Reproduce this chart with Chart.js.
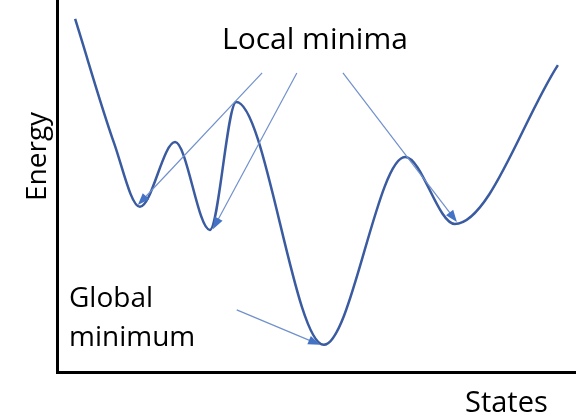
<!DOCTYPE html>
<html>
<head>
<meta charset="utf-8">
<script src="https://cdn.jsdelivr.net/npm/chart.js@4"></script>
<style>
  html, body { margin: 0; padding: 0; background: #fff; }
  #wrap { width: 579px; height: 417px; position: relative; }
</style>
</head>
<body>
<div id="wrap"><canvas id="energyChart"></canvas></div>
<script>
// energy landscape (states 0-100, energy 0-100)
const states = [3.5, 11.0, 16.0, 22.8, 29.5, 34.6, 51.5, 67.2, 76.8, 96.7];
const energy = [94.9, 61.6, 44.4, 61.8, 38.2, 72.6, 7.3, 57.8, 39.8, 82.5];

// arrows: [fromState, fromEnergy, toState, toEnergy]
const localArrows = [
    [39.6, 80.4, 15.6, 44.9],
    [46.3, 80.4, 30.1, 38.4],
    [55.2, 80.4, 77.2, 40.3]
];
const globalArrow = [34.7, 16.7, 50.8, 7.3];

const labelLocal = 'Local minima';
const labelGlobal = ['Global', 'minimum'];
const xTitle = 'States';
const yTitle = 'Energy';

const FONT = '"Open Sans", sans-serif';

const overlay = {
    id: 'overlay',
    afterDatasetsDraw(chart) {
        const ctx = chart.ctx;
        const xs = chart.scales.x, ys = chart.scales.y;
        ctx.save();
        [...localArrows, globalArrow].forEach(a => {
            const x1 = xs.getPixelForValue(a[0]), y1 = ys.getPixelForValue(a[1]);
            const x2 = xs.getPixelForValue(a[2]), y2 = ys.getPixelForValue(a[3]);
            const ang = Math.atan2(y2 - y1, x2 - x1);
            const hl = 12, hw = 4.5;
            ctx.strokeStyle = '#7090cc';
            ctx.lineWidth = 1.2;
            ctx.beginPath();
            ctx.moveTo(x1, y1);
            ctx.lineTo(x2 - Math.cos(ang) * hl * 0.8, y2 - Math.sin(ang) * hl * 0.8);
            ctx.stroke();
            ctx.fillStyle = '#4472c4';
            ctx.beginPath();
            ctx.moveTo(x2, y2);
            ctx.lineTo(x2 - Math.cos(ang) * hl - Math.sin(ang) * hw, y2 - Math.sin(ang) * hl + Math.cos(ang) * hw);
            ctx.lineTo(x2 - Math.cos(ang) * hl + Math.sin(ang) * hw, y2 - Math.sin(ang) * hl - Math.cos(ang) * hw);
            ctx.closePath();
            ctx.fill();
        });

        ctx.fillStyle = '#000';
        ctx.textBaseline = 'alphabetic';
        ctx.textAlign = 'left';
        ctx.font = '30px ' + FONT;
        ctx.fillText(labelLocal, 222, 49);
        ctx.font = '28px ' + FONT;
        ctx.fillText(labelGlobal[0], 69, 307);
        ctx.fillText(labelGlobal[1], 69, 346);
        ctx.font = '29px ' + FONT;
        ctx.fillText(xTitle, 465, 412);

        ctx.font = '28px ' + FONT;
        ctx.translate(46, 201);
        ctx.rotate(-Math.PI / 2);
        ctx.fillText(yTitle, 0, 0);
        ctx.restore();
    }
};

new Chart(document.getElementById('energyChart'), {
    type: 'line',
    data: {
        datasets: [{
            label: 'Energy',
            data: states.map((s, i) => ({ x: s, y: energy[i] })),
            borderColor: '#3a5ba0',
            borderWidth: 2.5,
            pointRadius: 0,
            cubicInterpolationMode: 'monotone',
            fill: false
        }]
    },
    options: {
        responsive: true,
        maintainAspectRatio: false,
        animation: false,
        layout: { padding: { left: 57, right: 4, top: 0, bottom: 45 } },
        plugins: { legend: { display: false }, tooltip: { enabled: false } },
        scales: {
            x: {
                type: 'linear', min: 0, max: 100,
                ticks: { display: false },
                grid: { display: false, drawTicks: false },
                border: { display: true, color: '#000', width: 3 }
            },
            y: {
                min: 0, max: 100,
                ticks: { display: false },
                grid: { display: false, drawTicks: false },
                border: { display: true, color: '#000', width: 3 }
            }
        }
    },
    plugins: [overlay]
});
</script>
</body>
</html>
